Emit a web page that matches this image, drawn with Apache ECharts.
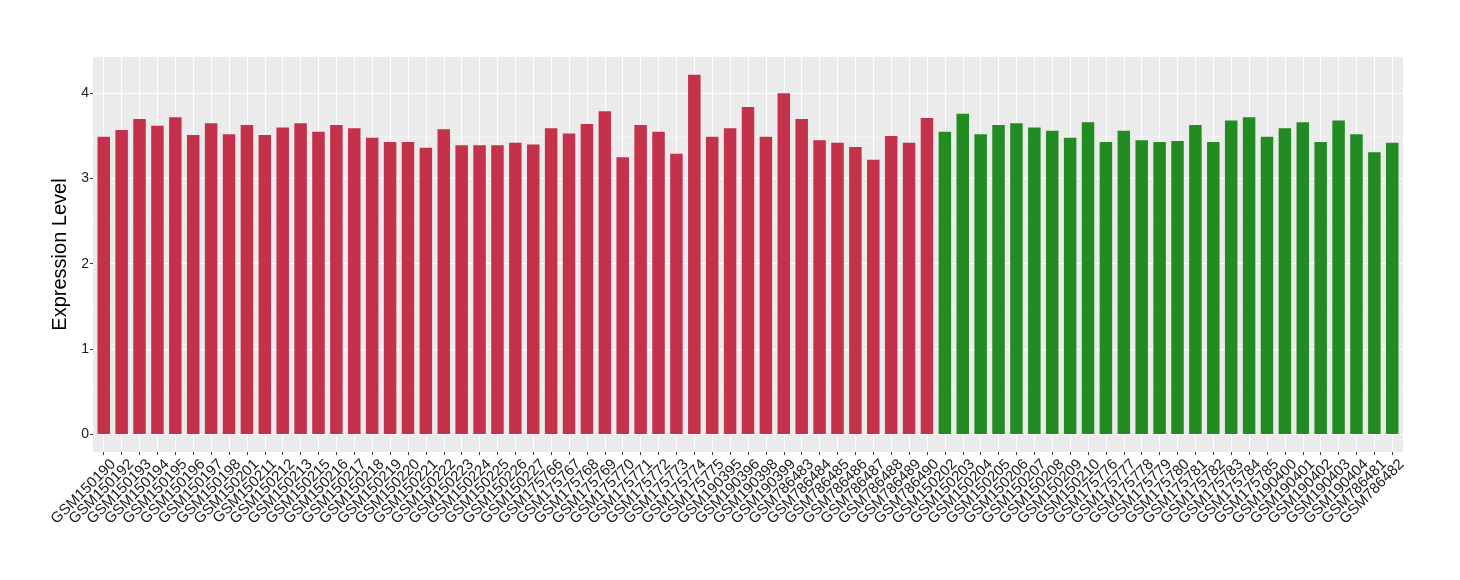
<!DOCTYPE html>
<html>
<head>
<meta charset="utf-8">
<script src="https://cdn.jsdelivr.net/npm/echarts@6/dist/echarts.min.js"></script>
<style>
html,body{margin:0;padding:0;background:#fff;}
#chart{width:1460px;height:580px;}
</style>
</head>
<body>
<div id="chart"></div>
<script>
var samples = ["GSM150190","GSM150192","GSM150193","GSM150194","GSM150195","GSM150196","GSM150197","GSM150198","GSM150201","GSM150211","GSM150212","GSM150213","GSM150215","GSM150216","GSM150217","GSM150218","GSM150219","GSM150220","GSM150221","GSM150222","GSM150223","GSM150224","GSM150225","GSM150226","GSM150227","GSM175766","GSM175767","GSM175768","GSM175769","GSM175770","GSM175771","GSM175772","GSM175773","GSM175774","GSM175775","GSM190395","GSM190396","GSM190398","GSM190399","GSM786483","GSM786484","GSM786485","GSM786486","GSM786487","GSM786488","GSM786489","GSM786490","GSM150202","GSM150203","GSM150204","GSM150205","GSM150206","GSM150207","GSM150208","GSM150209","GSM150210","GSM175776","GSM175777","GSM175778","GSM175779","GSM175780","GSM175781","GSM175782","GSM175783","GSM175784","GSM175785","GSM190400","GSM190401","GSM190402","GSM190403","GSM190404","GSM786481","GSM786482"];
var values = [3.49,3.57,3.70,3.62,3.72,3.51,3.65,3.52,3.63,3.51,3.60,3.65,3.55,3.63,3.59,3.48,3.43,3.43,3.36,3.58,3.39,3.39,3.39,3.42,3.40,3.59,3.53,3.64,3.79,3.25,3.63,3.55,3.29,4.22,3.49,3.59,3.84,3.49,4.00,3.70,3.45,3.42,3.37,3.22,3.50,3.42,3.71,3.55,3.76,3.52,3.63,3.65,3.60,3.56,3.48,3.66,3.43,3.56,3.45,3.43,3.44,3.63,3.43,3.68,3.72,3.49,3.59,3.66,3.43,3.68,3.52,3.31,3.42];
var groups = ["A","A","A","A","A","A","A","A","A","A","A","A","A","A","A","A","A","A","A","A","A","A","A","A","A","A","A","A","A","A","A","A","A","A","A","A","A","A","A","A","A","A","A","A","A","A","A","B","B","B","B","B","B","B","B","B","B","B","B","B","B","B","B","B","B","B","B","B","B","B","B","B","B"];
var groupColors = {A: "#C3314A", B: "#228B22"};
var yMajorTicks = [0, 1, 2, 3, 4];
var yMinorTicks = [0.5, 1.5, 2.5, 3.5];
var yLimits = [-0.211, 4.427];
var xLimits = [-0.6, 72.6];

var idx = samples.map(function (_, i) { return i; });
var seriesData = values.map(function (v, i) {
  return { value: [i, v], itemStyle: { color: groupColors[groups[i]] } };
});

// layout
var gLeft = 93, gRight = 57, gTop = 57, gBottom = 128;
var band = (1460 - gLeft - gRight) / (xLimits[1] - xLimits[0]);
var inset = 0.1 * band;       // category axis boundary gap is 0.5 band, panel expansion 0.6
var labelShift = 9.5;         // horizontal shift of rotated labels

var chart = echarts.init(document.getElementById('chart'), null, { renderer: 'canvas' });
var font = 'Liberation Sans, Arial, Helvetica, sans-serif';
chart.setOption({
  animation: false,
  backgroundColor: '#ffffff',
  grid: [{
    left: gLeft, right: gRight, top: gTop, bottom: gBottom,
    show: true, backgroundColor: '#EBEBEB', borderWidth: 0
  }, {
    left: gLeft + inset + labelShift, right: gRight + inset - labelShift, top: gTop, bottom: gBottom,
    show: false
  }],
  xAxis: [{
    type: 'value', min: xLimits[0], max: xLimits[1], gridIndex: 0,
    axisLine: { show: false, onZero: false },
    axisTick: { show: true, customValues: idx, length: 3, lineStyle: { color: '#333', width: 1 } },
    axisLabel: { show: false, customValues: idx },
    splitLine: { show: true, lineStyle: { color: '#ffffff', width: 1.1 } }
  }, {
    type: 'category', data: samples, gridIndex: 1, boundaryGap: true,
    axisLine: { show: false, onZero: false },
    axisTick: { show: false },
    splitLine: { show: false },
    axisLabel: {
      interval: 0, rotate: 45, margin: 10,
      fontFamily: font, fontSize: 15, color: '#1a1a1a'
    }
  }],
  yAxis: [{
    type: 'value', min: yLimits[0], max: yLimits[1], gridIndex: 0,
    name: 'Expression Level', nameLocation: 'middle', nameGap: 14,
    nameTextStyle: { fontFamily: font, fontSize: 20, color: '#000' },
    axisLine: { show: false, onZero: false },
    axisTick: { show: true, customValues: yMajorTicks, length: 3, lineStyle: { color: '#333', width: 1 } },
    axisLabel: { customValues: yMajorTicks, margin: 4, fontFamily: font, fontSize: 14, color: '#1a1a1a' },
    splitLine: { show: true, lineStyle: { color: '#ffffff', width: 1.1 } }
  }, {
    type: 'value', min: yLimits[0], max: yLimits[1], gridIndex: 0, position: 'left',
    axisLine: { show: false, onZero: false },
    axisTick: { show: false, customValues: yMinorTicks },
    axisLabel: { show: false, customValues: yMinorTicks },
    splitLine: { show: true, lineStyle: { color: '#F5F5F5', width: 0.7 } }
  }, {
    type: 'value', gridIndex: 1, show: false
  }],
  series: [{
    type: 'bar',
    data: seriesData,
    barWidth: 12.5,
    xAxisIndex: 0,
    yAxisIndex: 0
  }]
});
</script>
</body>
</html>
